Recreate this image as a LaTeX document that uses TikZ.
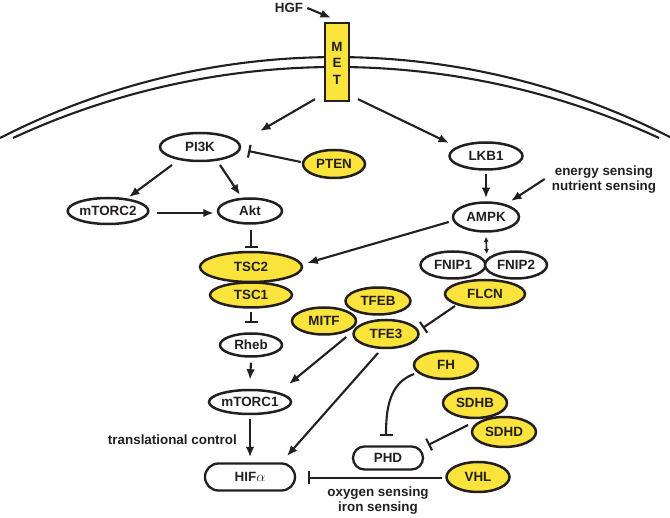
\documentclass[tikz,border=0pt]{standalone}
\usepackage{fontspec}
\setmainfont{Liberation Sans}
\usetikzlibrary{shapes.geometric,shapes.misc,arrows.meta,calc}
\definecolor{lc}{HTML}{231F20}
\definecolor{yel}{RGB}{250,228,60}
\tikzset{
  every node/.style={font=\fontsize{13.4}{15}\selectfont\bfseries, text=lc},
  ovw/.style={ellipse, draw=lc, line width=2.5pt, fill=white, inner sep=0pt},
  ovy/.style={ellipse, draw=lc, line width=2.5pt, fill=yel, inner sep=0pt},
  stad/.style={rounded rectangle, draw=lc, line width=2.3pt, fill=white, inner sep=0pt},
  lbl/.style={align=center, inner sep=0pt},
  arr/.style={draw=lc, line width=2.1pt, -{Latex[length=10.5pt,width=8.5pt]}},
  inh/.style={draw=lc, line width=2.1pt, -{Bar[width=13pt,line width=2.1pt]}},
  mem/.style={draw=lc, line width=2.1pt},
}
\begin{document}
\begin{tikzpicture}[x=1pt,y=-1pt]
\useasboundingbox (0,0) rectangle (670,518);
% membrane
\draw[mem] (0,138) arc[start angle=-117.1, end angle=-62.9, radius=737.4];
\draw[mem] (13,138) arc[start angle=-114.8, end angle=-65.2, radius=770.2];
% MET
\node[draw=lc, line width=2.3pt, fill=yel, minimum width=24pt, minimum height=78pt, inner sep=0pt] (MET) at (337,62) {};
\node[inner sep=0pt] (M) at (337,47) {M};
\node[inner sep=0pt] (E) at (337,63) {E};
\node[inner sep=0pt] (T) at (337,80) {T};
\node[lbl] (HGF) at (289,8) {HGF};
% nodes
\node[ovw, minimum width=80pt, minimum height=28pt] (PI3K) at (200,147) {PI3K};
\node[ovy, minimum width=62pt, minimum height=28pt] (PTEN) at (334,164) {PTEN};
\node[ovw, minimum width=80pt, minimum height=26pt] (mTORC2) at (108,211) {mTORC2};
\node[ovw, minimum width=64pt, minimum height=25pt] (Akt) at (250,211) {Akt};
\node[ovw, minimum width=73pt, minimum height=27pt] (LKB1) at (486,156) {LKB1};
\node[ovw, minimum width=66pt, minimum height=29pt] (AMPK) at (486,217) {AMPK};
\node[ovw, minimum width=65pt, minimum height=27pt] (FNIP1) at (453,265) {FNIP1};
\node[ovw, minimum width=62pt, minimum height=27pt] (FNIP2) at (516,265) {FNIP2};
\node[ovy, minimum width=80pt, minimum height=28pt] (FLCN) at (485,294) {FLCN};
\node[ovy, minimum width=82pt, minimum height=25pt] (TSC1) at (251,295) {TSC1};
\node[ovy, minimum width=102pt, minimum height=30pt] (TSC2) at (251,267) {TSC2};
\node[ovw, minimum width=62pt, minimum height=23pt] (Rheb) at (251,345) {Rheb};
\node[ovy, minimum width=64pt, minimum height=27pt] (MITF) at (324,321) {MITF};
\node[ovy, minimum width=65pt, minimum height=27pt] (TFEB) at (378,301) {TFEB};
\node[ovy, minimum width=65pt, minimum height=28pt] (TFE3) at (386,334) {TFE3};
\node[ovw, minimum width=82pt, minimum height=24pt] (mTORC1) at (250,402) {mTORC1};
\node[stad, minimum width=90pt, minimum height=27pt] (HIF) at (250,477) {HIF$\alpha$};
\node[ovy, minimum width=64pt, minimum height=28pt] (FH) at (446,365) {FH};
\node[ovy, minimum width=64pt, minimum height=30pt] (SDHD) at (504,432) {SDHD};
\node[ovy, minimum width=64pt, minimum height=30pt] (SDHB) at (475,403) {SDHB};
\node[stad, minimum width=70pt, minimum height=23pt] (PHD) at (388,458) {PHD};
\node[ovy, minimum width=63pt, minimum height=30pt] (VHL) at (478,477) {VHL};
% labels
\node[lbl, anchor=east] (trans) at (237,440) {translational control};
\node[lbl] (energy) at (604,180) {energy sensing\\nutrient sensing};
\node[lbl] (oxy) at (378,501) {oxygen sensing\\iron sensing};
% connectors
\draw[arr] ($(HGF.east)+(4,0)$) -- ($(MET.north)+(-6,-4)$);
\draw[arr] ($(MET.south)+(-22,-3)$) -- ($(PI3K)+(60,-16)$);
\draw[arr] ($(MET.south)+(21,-3)$) -- ($(LKB1)+(-37,-13)$);
\draw[arr] ($(PI3K)+(-28,18)$) -- ($(mTORC2)+(21,-14)$);
\draw[arr] ($(PI3K)+(20,18)$) -- ($(Akt)+(-10,-16)$);
\draw[arr] ($(mTORC2.east)+(7,2)$) -- ($(Akt.west)+(-3,2)$);
\draw[inh] ($(PTEN.west)+(-1,-2)$) -- ($(PI3K.east)+(7,4)$);
\draw[inh] ($(Akt.south)+(1,5)$) -- ($(TSC2.north)+(0,-3)$);
\draw[arr] ($(LKB1.south)+(0,3)$) -- ($(AMPK.north)+(0,-3)$);
\draw[arr] ($(energy.west)+(-7,-1)$) -- ($(AMPK)+(25,-16)$);
\draw[arr] ($(AMPK.west)+(-3,5)$) -- ($(TSC2.east)+(4,-4)$);
\draw[draw=lc, line width=1.6pt, {Latex[length=5pt,width=5pt]}-{Latex[length=5pt,width=5pt]}] ($(AMPK.south)+(0,4)$) -- ($(FNIP1.east)+(0,-11)$);
\draw[inh] ($(FLCN)+(-30,12)$) -- ($(TFE3.east)+(3,-6)$);
\draw[inh] ($(TSC1.south)+(0,3)$) -- ($(Rheb.north)+(0,-9)$);
\draw[arr] ($(Rheb.south)+(0,5)$) -- ($(mTORC1.north)+(0,-9)$);
\draw[arr] ($(mTORC1.south)+(0,4)$) -- ($(HIF.north)+(0,-5)$);
\draw[arr] ($(TFE3.west)+(-6,3)$) -- ($(mTORC1)+(39,-18)$);
\draw[arr] ($(TFE3)+(-8,19)$) -- ($(HIF)+(37,-21)$);
\draw[inh] ($(FH)+(-32,9)$) to[out=200, in=90] ($(PHD.north)+(-2,-9)$);
\draw[inh] ($(SDHD)+(-36,-7)$) -- ($(PHD.east)+(4,-13)$);
\draw[inh] ($(VHL.west)+(-3,1)$) -- ($(HIF.east)+(12,1)$);
\end{tikzpicture}
\end{document}
